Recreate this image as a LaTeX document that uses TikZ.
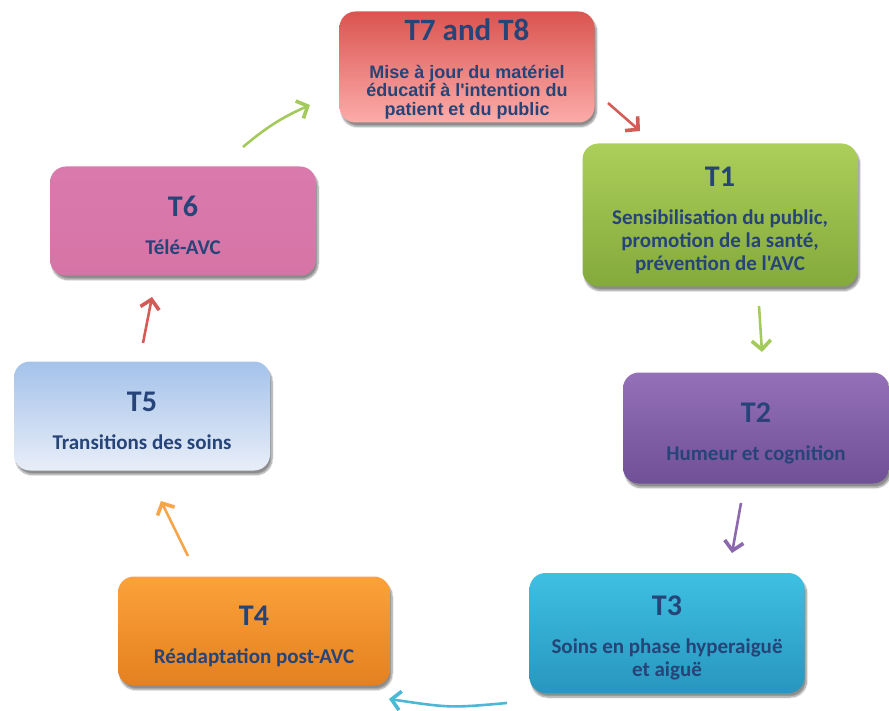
\documentclass[tikz,border=0pt]{standalone}
\usepackage{fontspec}
\newfontfamily\calfont{Carlito}
\newfontfamily\arialfont{Liberation Sans}
\usetikzlibrary{shadows.blur,arrows.meta}
\definecolor{txt}{RGB}{38,68,120}
\newcommand{\boxtitle}[1]{{\calfont\bfseries\fontsize{30}{32}\selectfont\rule{0pt}{30pt}#1}\\[15pt]}
\newcommand{\tightlines}{\setlength{\lineskiplimit}{-20pt}}

\begin{document}
\begin{tikzpicture}[
			x=1pt, y=-1pt,
			main/.style = {rounded corners=16pt, align=center, text=txt, font=\calfont\bfseries\fontsize{21}{23}\selectfont,
				blur shadow={shadow xshift=2pt, shadow yshift=-4pt, shadow blur steps=8, shadow opacity=45}},
			link/.style = {line width=2.6pt, -{Straight Barb[length=9pt, width=19pt, line width=3.6pt]}}
		]
		\useasboundingbox (0,0) rectangle (889,711);
		% Boxes.
		\node[main, minimum width=255, minimum height=111, top color={rgb,255:red,218;green,84;blue,80}, bottom color={rgb,255:red,252;green,172;blue,170}, font={\arialfont\bfseries\fontsize{18}{18.5}\selectfont\tightlines}] (t7) at (467,67)
			{{\calfont\bfseries\fontsize{31}{33}\selectfont\rule{0pt}{26pt}T7 and T8}\\[19pt]Mise à jour du matériel\\éducatif à l'intention du\\patient et du public};
		\node[main, minimum width=275, minimum height=143, top color={rgb,255:red,172;green,206;blue,90}, bottom color={rgb,255:red,132;green,170;blue,60}] (t1) at (720,215)
			{\boxtitle{T1}Sensibilisation du public,\\promotion de la santé,\\prévention de l'AVC};
		\node[main, minimum width=266, minimum height=111, top color={rgb,255:red,148;green,112;blue,184}, bottom color={rgb,255:red,112;green,80;blue,150}] (t2) at (756,428)
			{\boxtitle{T2}Humeur et cognition};
		\node[main, minimum width=275, minimum height=120, top color={rgb,255:red,62;green,192;blue,226}, bottom color={rgb,255:red,40;green,150;blue,190}] (t3) at (667,633)
			{\boxtitle{T3}Soins en phase hyperaiguë\\et aiguë};
		\node[main, minimum width=272, minimum height=109, top color={rgb,255:red,252;green,162;blue,58}, bottom color={rgb,255:red,228;green,128;blue,32}] (t4) at (254,631)
			{\boxtitle{T4}Réadaptation post-AVC};
		\node[main, minimum width=256, minimum height=109, top color={rgb,255:red,164;green,194;blue,234}, bottom color={rgb,255:red,232;green,238;blue,248}] (t5) at (142,416)
			{\boxtitle{T5}Transitions des soins};
		\node[main, minimum width=266, minimum height=109, top color={rgb,255:red,218;green,122;blue,172}, bottom color={rgb,255:red,214;green,116;blue,166}] (t6) at (183,221)
			{\boxtitle{T6}Télé-AVC};
		% Arrow ends.
		\coordinate (a1) at (608,103); \coordinate (b1) at (640,131);
		\coordinate (a2) at (759,306); \coordinate (b2) at (762,352);
		\coordinate (a3) at (741,503); \coordinate (b3) at (732,553);
		\coordinate (a4) at (507,703); \coordinate (b4) at (389,699);
		\coordinate (a5) at (188,556); \coordinate (b5) at (161,501);
		\coordinate (a6) at (143,343); \coordinate (b6) at (152,297);
		\coordinate (a7) at (243,147); \coordinate (b7) at (310,105);

		\draw[link, color={rgb,255:red,212;green,92;blue,86}] (a1) to (b1);
		\draw[link, color={rgb,255:red,164;green,202;blue,92}] (a2) to (b2);
		\draw[link, color={rgb,255:red,140;green,104;blue,172}] (a3) to (b3);
		\draw[link, color={rgb,255:red,76;green,184;blue,212}] (a4) .. controls (450,708) .. (b4);
		\draw[link, color={rgb,255:red,248;green,164;blue,72}] (a5) to (b5);
		\draw[link, color={rgb,255:red,212;green,92;blue,86}] (a6) to (b6);
		\draw[link, color={rgb,255:red,164;green,202;blue,92}] (a7) to[bend left=8] (b7);
	\end{tikzpicture}
\end{document}
